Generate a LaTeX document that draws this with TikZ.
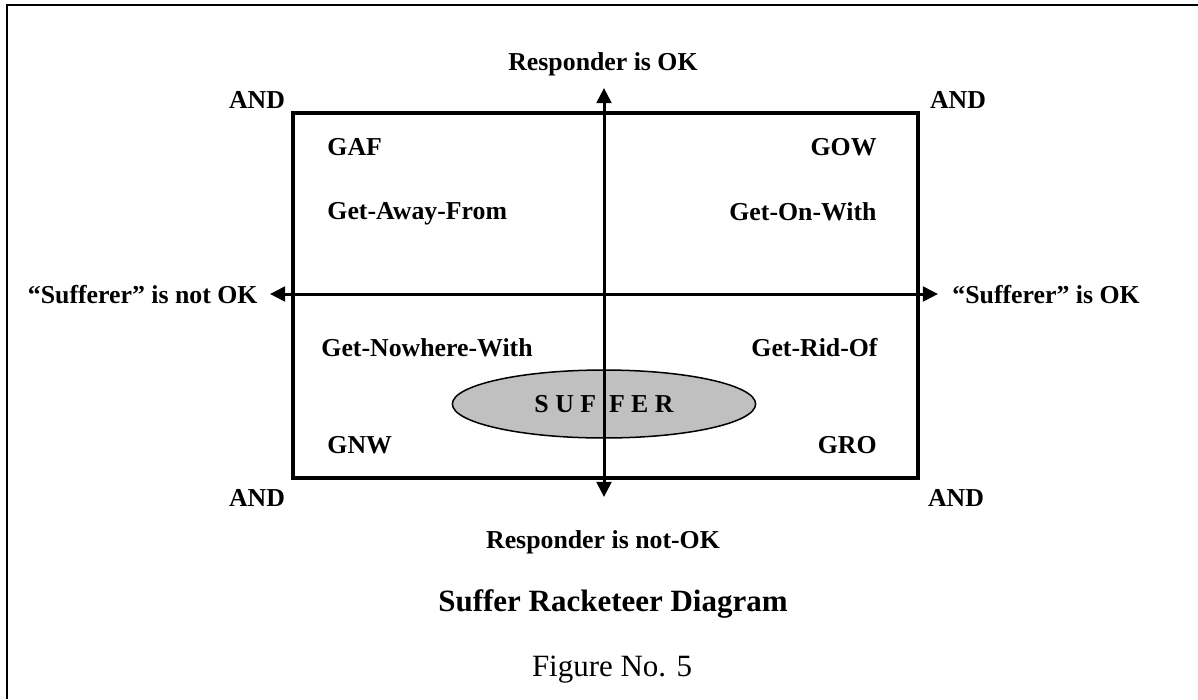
\documentclass[tikz,border=0pt]{standalone}
\usepackage{fontspec}
\setmainfont{Liberation Serif}
\usetikzlibrary{arrows.meta,shapes.geometric}

\definecolor{suffergray}{RGB}{192,192,192}

\begin{document}
\begin{tikzpicture}[x=0.01634cm,y=-0.01634cm,
    lbl/.style={font=\bfseries\fontsize{12}{14}\selectfont, inner sep=0pt},
    axis/.style={line width=1.4pt, {Triangle[length=7pt,width=6.8pt]}-{Triangle[length=7pt,width=6.8pt]}}]
  \useasboundingbox (0,0) rectangle (1198,699);
  \draw[line width=0.8pt] (7,699) -- (7,5) -- (1198,5);
  \draw[line width=1.5pt] (293,113) rectangle (918,478);
  \node[ellipse, draw, line width=0.7pt, fill=suffergray, inner sep=0pt,
        minimum width=141pt, minimum height=31.6pt, lbl] (suffer) at (604,404) {S U F\enspace F E R};
  \coordinate (rtop) at (604,88);
  \coordinate (rbot) at (604,497);
  \coordinate (sleft) at (270,294);
  \coordinate (sright) at (938,294);
  \draw[axis] (sleft) -- (sright);
  \draw[axis] (rbot) -- (rtop);
  \node[lbl, anchor=base] (respok) at (603,70) {Responder is OK};
  \node[lbl, anchor=base] (respnot) at (603,548) {Responder is not-OK};
  \node[lbl, anchor=base east] (sufnot) at (258,303) {“Sufferer” is not OK};
  \node[lbl, anchor=base west] (sufok) at (952,303) {“Sufferer” is OK};
  \foreach \x/\y [count=\i] in {257/108,958/108,257/506,956/506} {
    \node[lbl, anchor=base] (and\i) at (\x,\y) {AND};
  }
  \node[lbl, anchor=base west] (gaf) at (327,155) {GAF};
  \node[lbl, anchor=base west] (gafname) at (327,219) {Get-Away-From};
  \node[lbl, anchor=base east] (gow) at (877,155) {GOW};
  \node[lbl, anchor=base east] (gowname) at (877,220) {Get-On-With};
  \node[lbl, anchor=base west] (gnwname) at (321,356) {Get-Nowhere-With};
  \node[lbl, anchor=base east] (groname) at (878,356) {Get-Rid-Of};
  \node[lbl, anchor=base west] (gnw) at (327,453) {GNW};
  \node[lbl, anchor=base east] (gro) at (877,453) {GRO};
  \node[font=\bfseries\fontsize{14.4}{17}\selectfont, anchor=base, inner sep=0pt] (title) at (613,611) {Suffer Racketeer Diagram};
  \node[font=\fontsize{14.4}{17}\selectfont, anchor=base, inner sep=0pt] (fignum) at (612,676) {Figure No. 5};
\end{tikzpicture}
\end{document}
